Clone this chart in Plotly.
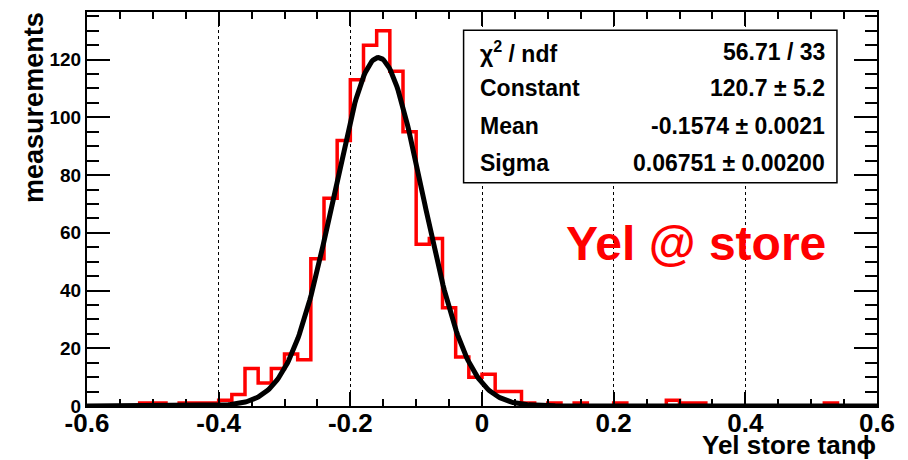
import numpy as np
import plotly.graph_objects as go

# ---- data ----
x_min, x_max, n_bins = -0.6, 0.6, 60
counts = [0, 0, 0, 0, 1, 1, 0, 1, 1, 1,
          2, 4, 13, 8, 13, 18, 16, 51, 72, 92,
          113, 125, 130, 116, 95, 56, 58, 34, 17, 10,
          11, 5, 5, 1, 0, 1, 0, 1, 0, 0,
          1, 0, 0, 0, 2, 1, 1, 0, 0, 0,
          0, 0, 0, 0, 0, 0, 1, 0, 0, 0]
fit_constant = 120.7
fit_mean = -0.1574
fit_sigma = 0.06751
stat_labels = ["χ<sup>2</sup> / ndf", "Constant", "Mean", "Sigma"]
stat_values = ["56.71 / 33", "120.7 ± 5.2", "-0.1574 ± 0.0021", "0.06751 ± 0.00200"]
x_ticks = [-0.6, -0.4, -0.2, 0, 0.2, 0.4, 0.6]
x_tick_text = ["-0.6", "-0.4", "-0.2", "0", "0.2", "0.4", "0.6"]
y_ticks = [0, 20, 40, 60, 80, 100, 120]

edges = np.linspace(x_min, x_max, n_bins + 1)
step_x = list(edges)
step_y = list(counts) + [counts[-1]]

fx = np.linspace(x_min, x_max, 600)
fy = fit_constant * np.exp(-0.5 * ((fx - fit_mean) / fit_sigma) ** 2)

FONT = "Liberation Sans"

fig = go.Figure()
fig.add_trace(go.Scatter(x=step_x, y=step_y, mode="lines",
                         line=dict(color="#ff0000", width=3.5, shape="hv"),
                         showlegend=False, hoverinfo="skip"))
fig.add_trace(go.Scatter(x=fx, y=fy, mode="lines",
                         line=dict(color="black", width=5),
                         showlegend=False, hoverinfo="skip"))

fig.update_layout(
    width=908, height=460,
    margin=dict(l=87, r=31, t=10, b=54),
    paper_bgcolor="white", plot_bgcolor="white",
    font=dict(family=FONT, color="black"),
)
fig.update_xaxes(
    range=[x_min, x_max], tickvals=x_ticks, ticktext=x_tick_text,
    tickfont=dict(size=26, family=FONT, weight="bold"),
    ticklabelstandoff=-7,
    showgrid=True, gridcolor="black", griddash="dot", gridwidth=1,
    zeroline=False, showline=True, linecolor="black", linewidth=2,
    mirror="allticks", ticks="inside", ticklen=14, tickwidth=1.5, tickcolor="black",
    minor=dict(ticks="inside", dtick=0.05, tick0=0, ticklen=7, tickwidth=1.5,
               tickcolor="black", showgrid=False),
)
fig.update_yaxes(
    range=[0, 136.5], tickvals=y_ticks,
    tickfont=dict(size=19, family=FONT, weight="bold"),
    showgrid=False, zeroline=False, showline=True, linecolor="black", linewidth=2,
    mirror="allticks", ticks="inside", ticklen=23, tickwidth=1.5, tickcolor="black",
    minor=dict(ticks="inside", dtick=5, tick0=0, ticklen=12, tickwidth=1.5,
               tickcolor="black"),
)

# stats box
fig.add_shape(type="rect", xref="paper", yref="paper",
              x0=0.4767, x1=0.9493, y0=0.5664, y1=0.9538,
              line=dict(color="black", width=1.5), fillcolor="white", layer="above")
row_y = [0.899, 0.806, 0.7096, 0.617]
for lab, val, yy in zip(stat_labels, stat_values, row_y):
    fig.add_annotation(xref="paper", yref="paper", x=0.4953, y=yy, text=lab,
                       showarrow=False, xanchor="left", yanchor="middle",
                       font=dict(size=23, family=FONT, weight="bold"))
    fig.add_annotation(xref="paper", yref="paper", x=0.9366, y=yy, text=val,
                       showarrow=False, xanchor="right", yanchor="middle",
                       font=dict(size=23, family=FONT, weight="bold"))

fig.add_annotation(xref="paper", yref="paper", x=0.9381, y=0.4116, text="Yel @ store",
                   showarrow=False, xanchor="right", yanchor="middle",
                   font=dict(size=48, family=FONT, weight="bold", color="#ff0000"))

fig.add_annotation(xref="paper", yref="paper", x=1.0015, y=-0.099, text="Yel store tanϕ",
                   showarrow=False, xanchor="right", yanchor="middle",
                   font=dict(size=26, family=FONT, weight="bold"))
fig.add_annotation(xref="paper", yref="paper", x=-0.0678, y=0.7576, text="measurements",
                   showarrow=False, xanchor="center", yanchor="middle", textangle=-90,
                   font=dict(size=27, family=FONT, weight="bold"))

fig.write_html("out.html")
